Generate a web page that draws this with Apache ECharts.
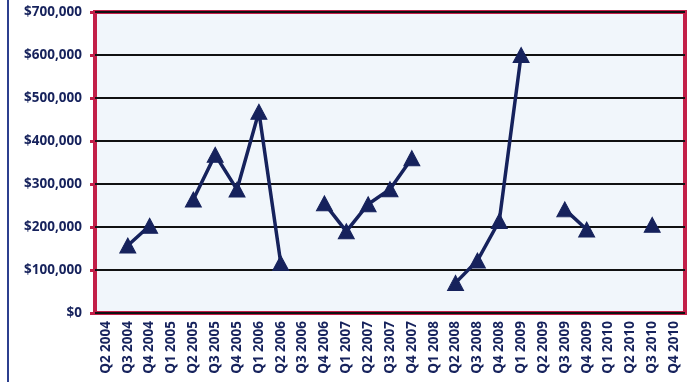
<!DOCTYPE html>
<html>
<head>
<meta charset="utf-8">
<script src="https://cdn.jsdelivr.net/npm/echarts@6/dist/echarts.min.js"></script>
<style>
  html, body { margin: 0; padding: 0; background: #ffffff; }
  #chart { width: 694px; height: 382px; }
</style>
</head>
<body>
<div id="chart"></div>
<script>
// Quarterly categories along the x axis
const quarters = [
  'Q2 2004', 'Q3 2004', 'Q4 2004', 'Q1 2005', 'Q2 2005', 'Q3 2005', 'Q4 2005',
  'Q1 2006', 'Q2 2006', 'Q3 2006', 'Q4 2006', 'Q1 2007', 'Q2 2007', 'Q3 2007',
  'Q4 2007', 'Q1 2008', 'Q2 2008', 'Q3 2008', 'Q4 2008', 'Q1 2009', 'Q2 2009',
  'Q3 2009', 'Q4 2009', 'Q1 2010', 'Q2 2010', 'Q3 2010', 'Q4 2010'
];

// Quarterly amounts in dollars; null marks a quarter with no figure
const amounts = [
  null, 157000, 203000, null, 264000, 368000, 287000,
  468000, 116000, null, 255000, 190000, 253000, 288000,
  360000, null, 70000, 122000, 214000, 600000, null,
  241000, 194000, null, null, 205000, null
];

// Value axis range
const yMin = 0;
const yMax = 700000;
const yStep = 100000;

const navy = '#16225c';
const crimson = '#c21f48';
const labelFont = 'Open Sans';

const chart = echarts.init(document.getElementById('chart'));

function money(v) {
  return '$' + v.toString().replace(/\B(?=(\d{3})+(?!\d))/g, ',');
}

chart.setOption({
  animation: false,
  grid: {
    left: 95, right: 9, top: 12, bottom: 69,
    show: true,
    backgroundColor: '#f1f6fb',
    borderColor: crimson,
    borderWidth: 4
  },
  xAxis: {
    type: 'category',
    data: quarters,
    boundaryGap: true,
    axisLine: { show: false },
    axisTick: { show: false },
    axisLabel: {
      rotate: 90,
      interval: 0,
      margin: 8,
      color: navy,
      fontFamily: labelFont,
      fontWeight: 'bold',
      fontSize: 13.5
    },
    splitLine: { show: false }
  },
  yAxis: {
    type: 'value',
    min: yMin,
    max: yMax,
    interval: yStep,
    axisLine: { show: false },
    axisTick: {
      show: true,
      length: 5,
      lineStyle: { color: crimson, width: 3 }
    },
    axisLabel: {
      margin: 13,
      color: navy,
      fontFamily: labelFont,
      fontWeight: 'bold',
      fontSize: 13.5,
      formatter: money
    },
    splitLine: { lineStyle: { color: '#111111', width: 1.8 } }
  },
  graphic: [{
    type: 'line',
    shape: { x1: 8, y1: 0, x2: 8, y2: 382 },
    style: { stroke: '#2c3f8e', lineWidth: 2 },
    z: 10
  }],
  series: [{
    type: 'line',
    data: amounts,
    connectNulls: false,
    symbol: 'triangle',
    symbolSize: [16, 15],
    showAllSymbol: true,
    lineStyle: { color: navy, width: 3.5 },
    itemStyle: { color: navy, borderColor: navy, borderWidth: 1 },
    z: 5
  }]
});
</script>
</body>
</html>
